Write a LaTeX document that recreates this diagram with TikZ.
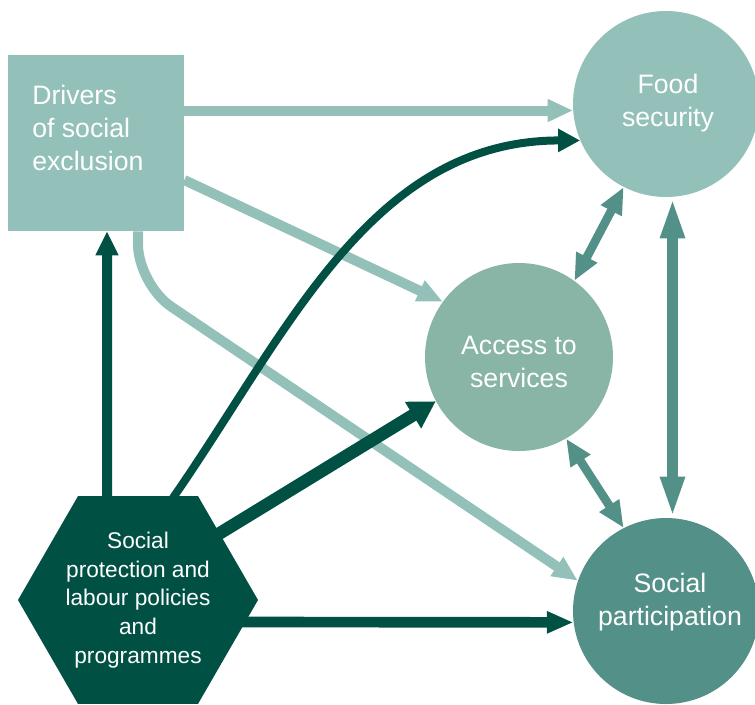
\documentclass[tikz,border=0pt]{standalone}
\usepackage{fontspec}
\setmainfont{Liberation Sans}
\usetikzlibrary{arrows.meta,shapes.geometric,calc}

\definecolor{paleteal}{HTML}{93C1B9}
\definecolor{servteal}{HTML}{88B5A6}
\definecolor{midteal}{HTML}{539088}
\definecolor{deepgreen}{HTML}{005044}

\tikzset{
  bigtext/.style={text=white, font=\fontsize{20}{25}\selectfont, align=center, inner sep=0pt},
  paleline/.style={draw=paleteal, line width=7.5pt, -{Triangle[length=19pt,width=16pt]}},
  deepline/.style={draw=deepgreen, line width=#1},
  twoway/.style={draw=midteal, line width=6.5pt,
    {Triangle[length=20pt,width=16.5pt]}-{Triangle[length=20pt,width=16.5pt]}}
}

\begin{document}
\begin{tikzpicture}[x=0.75pt,y=-0.75pt]
  \useasboundingbox (0,0) rectangle (755,704);

  % boxes and circles
  \node[fill=paleteal, minimum size=132pt, inner sep=0pt] (drivers) at (96,143) {};
  \node[circle, fill=paleteal, minimum size=139.5pt, inner sep=0pt] (food) at (666,104) {};
  \node[circle, fill=servteal, minimum size=141pt, inner sep=0pt] (access) at (519,357) {};
  \node[circle, fill=midteal, minimum size=139.5pt, inner sep=0pt] (part) at (666,611) {};
  \node[regular polygon, regular polygon sides=6, fill=deepgreen, minimum size=180pt,
        inner sep=0pt, text=white, align=center, font=\fontsize{17}{21.5}\selectfont]
        (policies) at (138,600) {Social\\protection and\\labour policies\\and\\programmes};

  % labels
  \node[bigtext, align=left, anchor=west] (driverslabel) at (32,128) {Drivers\\of social\\exclusion};
  \node[bigtext] (foodlabel) at ($(food)+(2,-1)$) {Food\\security};
  \node[bigtext] (accesslabel) at ($(access)+(0,5)$) {Access to\\services};
  \node[bigtext] (partlabel) at ($(part)+(4,-9)$) {Social\\participation};

  % from the drivers
  \draw[paleline] (drivers.east |- food.184) -- (food.184);
  \draw[paleline] ($(drivers.east)+(0,37)$) -- (access.144);
  \draw[paleline, rounded corners=30pt] ($(drivers.south)+(42,0)$) -- ++(0,53) -- (part.161);

  % from the policies
  \draw[deepline=7.5pt, -{Triangle[length=18pt,width=16pt]}]
    ($(policies.north)+(-31,5)$) -- ($(drivers.south)+(11,0)$);
  \draw[deepline=6pt, -{Triangle[length=16.5pt,width=16.5pt]}]
    ($(policies.north)+(35,2)$) .. controls +(114,-164) and +(-210,0) .. (food.203);
  \draw[deepline=9.5pt, -{Triangle[length=20pt,width=22pt]}]
    ($(policies.center)+(74,-62)$) -- (access.208);
  \draw[deepline=8pt, -{Triangle[length=20pt,width=15.5pt]}]
    ($(policies.east)+(-18,22)$) -- (part.187);

  % between the outcomes
  \draw[twoway] (food.243) -- (access.54);
  \draw[twoway] (access.300) -- (part.117);
  \draw[twoway, line width=8pt, {Triangle[length=31pt,width=16.5pt]}-{Triangle[length=31pt,width=16.5pt]}]
    (food.274) -- (part.86);

\end{tikzpicture}
\end{document}
